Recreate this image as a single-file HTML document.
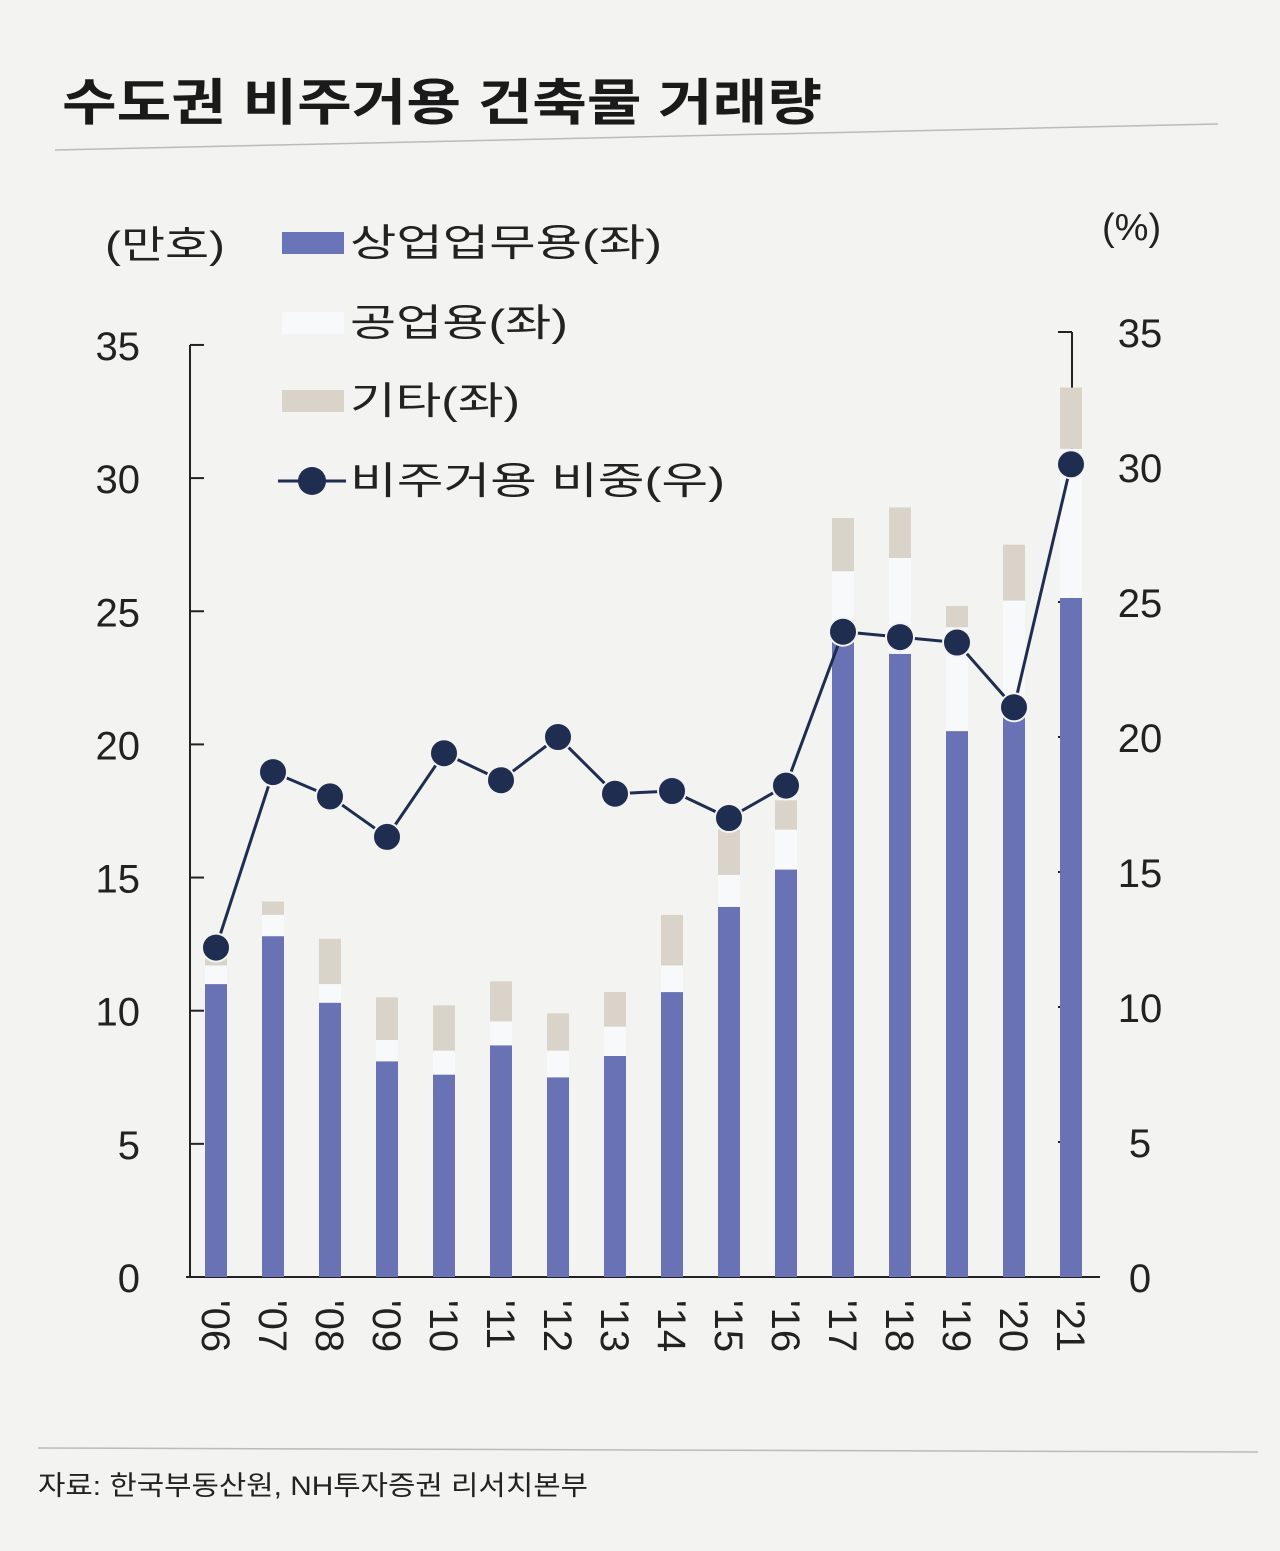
<!DOCTYPE html>
<html><head><meta charset="utf-8">
<style>
body{margin:0;background:#f3f3f1;}
svg{display:block;font-family:"Liberation Sans","Noto Sans CJK KR",sans-serif;}
</style></head>
<body>
<svg id="chart" width="1280" height="1551" viewBox="0 0 1280 1551">
<rect width="1280" height="1551" fill="#f3f3f1"/>
<text x="62" y="120" font-size="50" font-weight="bold" fill="#1a1a1a" textLength="760" lengthAdjust="spacingAndGlyphs">수도권 비주거용 건축물 거래량</text>
<line x1="55" y1="150" x2="1218" y2="124" stroke="#bbb" stroke-width="1.5"/>
<text x="105" y="258" font-size="38" fill="#222" textLength="120" lengthAdjust="spacingAndGlyphs">(만호)</text>
<text x="1102" y="240" font-size="38" fill="#222">(%)</text>
<g>
<rect x="282" y="232" width="62" height="22" fill="#6a74b8"/>
<text x="350" y="256" font-size="38" fill="#222" textLength="312" lengthAdjust="spacingAndGlyphs">상업업무용(좌)</text>
<rect x="282" y="312" width="62" height="22" fill="#f7f9fb"/>
<text x="350" y="336" font-size="38" fill="#222" textLength="218" lengthAdjust="spacingAndGlyphs">공업용(좌)</text>
<rect x="282" y="390" width="62" height="22" fill="#d9d3c9"/>
<text x="350" y="414" font-size="38" fill="#222" textLength="170" lengthAdjust="spacingAndGlyphs">기타(좌)</text>
<line x1="278" y1="481" x2="346" y2="481" stroke="#1e2d50" stroke-width="3"/>
<circle cx="312" cy="481" r="14" fill="#1e2d50"/>
<text x="350" y="494" font-size="38" fill="#222" textLength="375" lengthAdjust="spacingAndGlyphs">비주거용 비중(우)</text>
</g>
<g id="axes"></g>
<g id="bars"></g>
<g id="line"></g>
<line x1="38" y1="1448" x2="1258" y2="1452" stroke="#bbb" stroke-width="1.5"/>
<text x="38" y="1495" font-size="27" fill="#222" textLength="550" lengthAdjust="spacingAndGlyphs">자료: 한국부동산원, NH투자증권 리서치본부</text>
</svg>
<script>
const categories=["'06","'07","'08","'09","'10","'11","'12","'13","'14","'15","'16","'17","'18","'19","'20","'21"];
const commercial=[11.0,12.8,10.3,8.1,7.6,8.7,7.5,8.3,10.7,13.9,15.3,23.9,23.4,20.5,21.5,25.5];
const industrial=[0.7,0.8,0.7,0.8,0.9,0.9,1.0,1.1,1.0,1.2,1.5,2.6,3.6,3.9,3.9,5.6];
const other=[0.3,0.5,1.7,1.6,1.7,1.5,1.4,1.3,1.9,1.7,1.1,2.0,1.9,0.8,2.1,2.3];
const share=[12.2,18.7,17.8,16.3,19.4,18.4,20.0,17.9,18.0,17.0,18.2,23.9,23.7,23.5,21.1,30.1];
const leftTicks=[0,5,10,15,20,25,30,35];
const rightTicks=[0,5,10,15,20,25,30,35];
const NS="http://www.w3.org/2000/svg";
const y0=1277;
function yL(v){return y0-v*26.63;}
function yR(v){return y0-v*27.0;}
function xC(i){return 216+i*57;}
function mk(tag,attrs,parent){const e=document.createElementNS(NS,tag);for(const k in attrs)e.setAttribute(k,attrs[k]);parent.appendChild(e);return e;}
const ax=document.getElementById('axes');
let e;
e=mk('line',{x1:190,y1:345,x2:190,y2:y0,stroke:'#222','stroke-width':2},ax);


e=mk('line',{x1:1072,y1:332,x2:1072,y2:y0,stroke:'#222','stroke-width':2},ax);


e=mk('line',{x1:186,y1:y0,x2:1100,y2:y0,stroke:'#222','stroke-width':2},ax);


leftTicks.forEach(t=>{
 e=mk('line',{x1:190,y1:yL(t),x2:204,y2:yL(t),stroke:'#222','stroke-width':2},ax);
 
 
 e=mk('text',{x:140,y:yL(t)+15,'font-size':40,'text-anchor':'end',fill:'#222'},ax);
 e.textContent=t;
 
 
});
rightTicks.forEach(t=>{
 e=mk('line',{x1:1058,y1:yR(t),x2:1072,y2:yR(t),stroke:'#222','stroke-width':2},ax);
 
 
 e=mk('text',{x:1140,y:yR(t)+15,'font-size':40,'text-anchor':'middle',fill:'#222'},ax);
 e.textContent=t;
 
 
});
const bg=document.getElementById('bars');
categories.forEach((c,i)=>{
 const x=xC(i)-11,w=22;
 let b=commercial[i];
 e=mk('rect',{x:x,y:yL(b),width:w,height:y0-yL(b),fill:'#6a72b6'},bg);
 
 
 e=mk('rect',{x:x,y:yL(b+industrial[i]),width:w,height:yL(b)-yL(b+industrial[i]),fill:'#f7f9fb'},bg);
 
 
 const t=b+industrial[i];
 e=mk('rect',{x:x,y:yL(t+other[i]),width:w,height:yL(t)-yL(t+other[i]),fill:'#d9d3c9'},bg);
 
 
 e=mk('text',{x:0,y:0,'font-size':40,fill:'#222',transform:'translate('+(xC(i)-14)+',1300) rotate(90)'},ax);
 e.textContent=c;
 
 
});
const lg=document.getElementById('line');
e=mk('polyline',{points:share.map((v,i)=>xC(i)+','+yR(v)).join(' '),fill:'none',stroke:'#1e2d50','stroke-width':3},lg);


share.forEach((v,i)=>{
 e=mk('circle',{cx:xC(i),cy:yR(v),r:14,fill:'#1e2d50',stroke:'#f3f3f1','stroke-width':2},lg);
 
 
});
</script>
</body></html>
